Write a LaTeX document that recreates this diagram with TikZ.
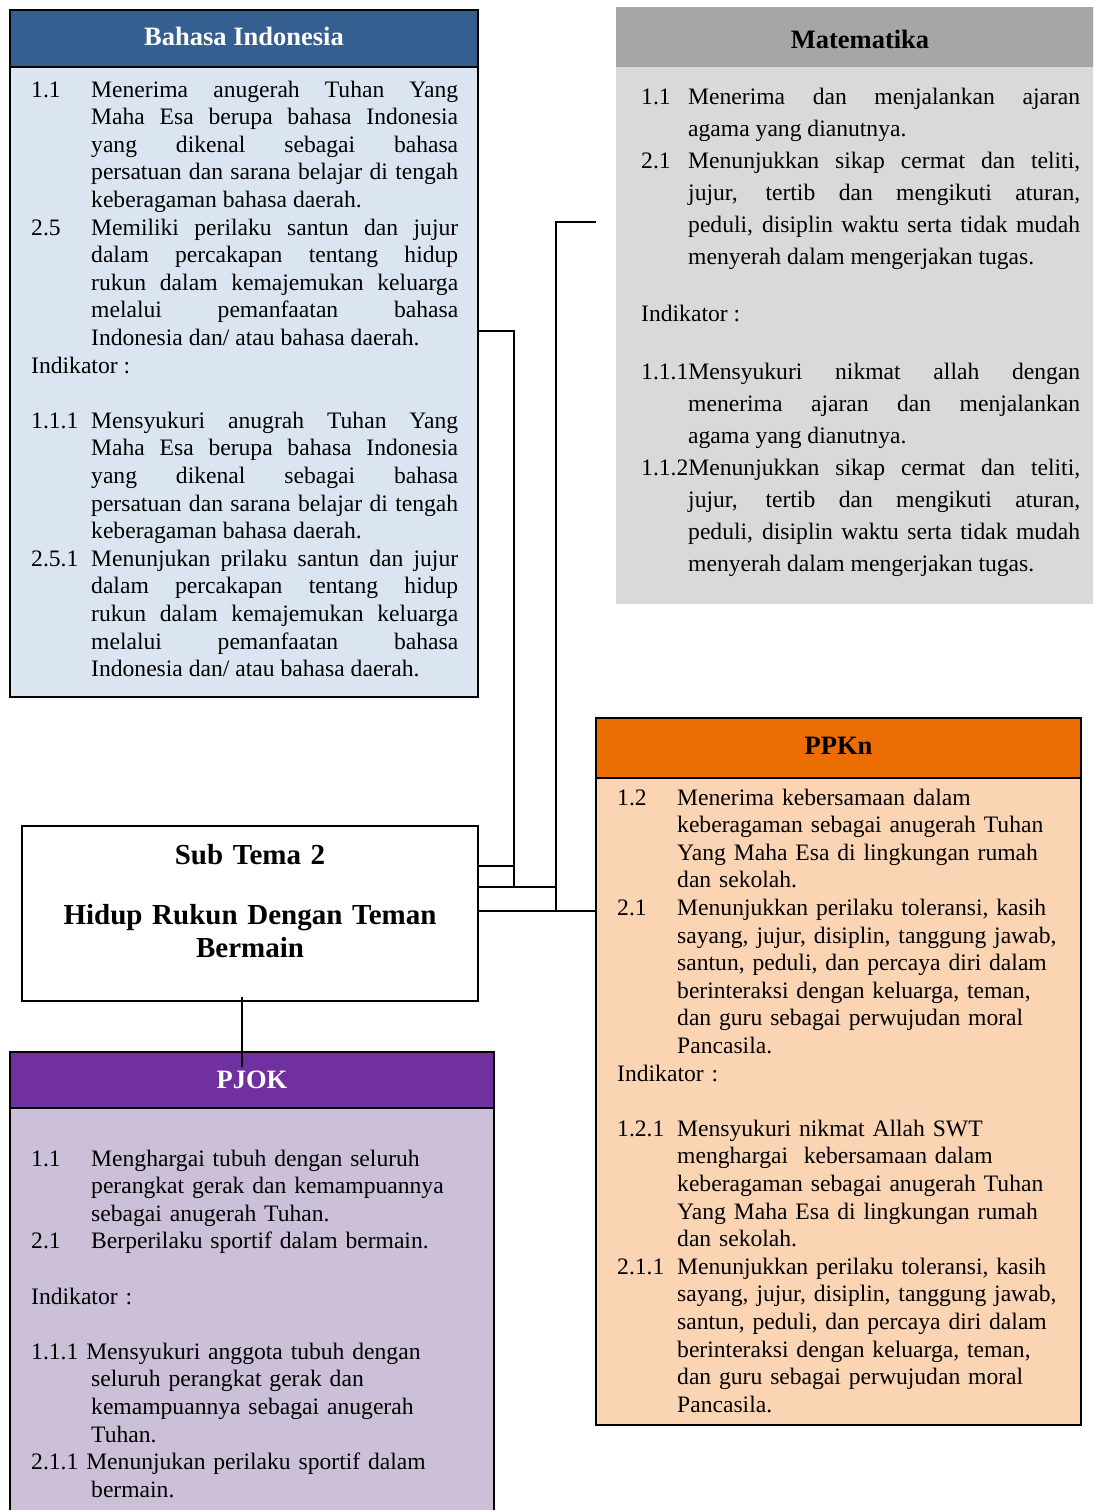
\documentclass[tikz,border=0pt]{standalone}
\usepackage{fontspec}
\setmainfont{Liberation Serif}
\usetikzlibrary{calc}

\definecolor{biHead}{HTML}{365F91}
\definecolor{biBody}{HTML}{DBE5F1}
\definecolor{mtHead}{HTML}{A6A6A6}
\definecolor{mtBody}{HTML}{D9D9D9}
\definecolor{ppHead}{HTML}{EC6D03}
\definecolor{ppBody}{HTML}{FBD4B4}
\definecolor{pjHead}{HTML}{7030A0}
\definecolor{pjBody}{HTML}{CCC0D9}

% paragraph settings used in every text column
\newcommand{\bodysetup}{\parindent=0pt\parskip=0pt\tolerance=10000\hbadness=10000\hyphenpenalty=10000\exhyphenpenalty=10000\relax}
% numbered competence paragraph: label in a fixed-width slot, hanging indent
\newcommand{\kdpar}[3]{\hangindent=#1\hangafter=1\noindent\makebox[#1][l]{#2}#3\par}
% paragraph whose label runs straight into the text
\newcommand{\kdrun}[2]{\hangindent=#1\hangafter=1\noindent #2\par}

\tikzset{
  panel/.style={draw=black, line width=2pt, anchor=north west, inner sep=0pt, outer sep=0pt},
  headtext/.style={anchor=base, inner sep=0pt, font=\bfseries\fontsize{26.5}{30}\selectfont},
  bodytext/.style={anchor=base west, inner sep=0pt, text width=#1, font=\fontsize{23.6}{27.6}\selectfont},
  wire/.style={draw=black, line width=1.6pt},
}

\begin{document}
\begin{tikzpicture}[x=1pt, y=-1pt]
\useasboundingbox (0,0) rectangle (1093,1510);
\clip (0,0) rectangle (1093,1510);

% ---------- Bahasa Indonesia ----------
\node[panel, fill=biBody, minimum width=468pt, minimum height=687pt] (bi) at (10,10) {};
\node[panel, fill=biHead, minimum width=468pt, minimum height=57pt] (biHd) at (10,10) {};
\node[headtext, text=white] (biTitle) at ($(biHd.south)+(0,-22)$) {Bahasa Indonesia};
\node[bodytext=427pt, align=justify] (biText) at (31,97) {\bodysetup%
\kdpar{60pt}{1.1}{Menerima anugerah Tuhan Yang\break Maha Esa berupa bahasa Indonesia\break yang dikenal sebagai bahasa\break persatuan dan sarana belajar di tengah\break keberagaman bahasa daerah.}%
\kdpar{60pt}{2.5}{Memiliki perilaku santun dan jujur\break dalam percakapan tentang hidup\break rukun dalam kemajemukan keluarga\break melalui pemanfaatan bahasa\break Indonesia dan/ atau bahasa daerah.}%
Indikator :\par
\mbox{}\par
\kdpar{60pt}{1.1.1}{Mensyukuri anugrah Tuhan Yang\break Maha Esa berupa bahasa Indonesia\break yang dikenal sebagai bahasa\break persatuan dan sarana belajar di tengah\break keberagaman bahasa daerah.}%
\kdpar{60pt}{2.5.1}{Menunjukan prilaku santun dan jujur\break dalam percakapan tentang hidup\break rukun dalam kemajemukan keluarga\break melalui pemanfaatan bahasa\break Indonesia dan/ atau bahasa daerah.}%
};

% ---------- Matematika ----------
\node[panel, draw=none, fill=mtBody, minimum width=480pt, minimum height=597pt] (mt) at (616,7) {};
\node[panel, draw=none, fill=mtHead, minimum width=480pt, minimum height=60pt] (mtHd) at (616,7) {};
\node[headtext] (mtTitle) at ($(mtHd.south)+(4,-19)$) {Matematika};
\node[bodytext=439pt, align=justify, font=\fontsize{23.6}{32}\selectfont] (mtText) at (641,104) {\bodysetup%
\kdpar{47pt}{1.1}{Menerima dan menjalankan ajaran\break agama yang dianutnya.}%
\kdpar{47pt}{2.1}{Menunjukkan sikap cermat dan teliti,\break jujur, tertib dan mengikuti aturan,\break peduli, disiplin waktu serta tidak mudah\break menyerah dalam mengerjakan tugas.}%
\vspace{25pt}Indikator :\par
\vspace{26pt}%
\kdrun{47pt}{1.1.1Mensyukuri nikmat allah dengan\break menerima ajaran dan menjalankan\break agama yang dianutnya.}%
\kdrun{47pt}{1.1.2Menunjukkan sikap cermat dan teliti,\break jujur, tertib dan mengikuti aturan,\break peduli, disiplin waktu serta tidak mudah\break menyerah dalam mengerjakan tugas.}%
};

% ---------- PPKn ----------
\node[panel, fill=ppBody, minimum width=485pt, minimum height=707pt] (pp) at (596,718) {};
\node[panel, fill=ppHead, minimum width=485pt, minimum height=60pt] (ppHd) at (596,718) {};
\node[headtext] (ppTitle) at ($(ppHd.south)+(0,-24)$) {PPKn};
\node[bodytext=455pt, align=left] (ppText) at (617,805) {\bodysetup%
\kdpar{60pt}{1.2}{Menerima kebersamaan dalam\break keberagaman sebagai anugerah Tuhan\break Yang Maha Esa di lingkungan rumah\break dan sekolah.}%
\kdpar{60pt}{2.1}{Menunjukkan perilaku toleransi, kasih\break sayang, jujur, disiplin, tanggung jawab,\break santun, peduli, dan percaya diri dalam\break berinteraksi dengan keluarga, teman,\break dan guru sebagai perwujudan moral\break Pancasila.}%
Indikator :\par
\mbox{}\par
\kdpar{60pt}{1.2.1}{Mensyukuri nikmat Allah SWT\break menghargai\ \ kebersamaan dalam\break keberagaman sebagai anugerah Tuhan\break Yang Maha Esa di lingkungan rumah\break dan sekolah.}%
\kdpar{60pt}{2.1.1}{Menunjukkan perilaku toleransi, kasih\break sayang, jujur, disiplin, tanggung jawab,\break santun, peduli, dan percaya diri dalam\break berinteraksi dengan keluarga, teman,\break dan guru sebagai perwujudan moral\break Pancasila.}%
};

% ---------- Sub Tema ----------
\node[panel, fill=white, minimum width=456pt, minimum height=175pt] (sub) at (22,826) {};
\node[anchor=base, inner sep=0pt, text width=440pt, align=center,
      font=\bfseries\fontsize{29}{33}\selectfont] (subText) at (250,864)
  {Sub Tema 2\\[27pt]Hidup Rukun Dengan Teman\\Bermain};

% ---------- PJOK ----------
\node[panel, fill=pjBody, minimum width=484pt, minimum height=520pt] (pj) at (10,1052) {};
\node[panel, fill=pjHead, minimum width=484pt, minimum height=56pt] (pjHd) at (10,1052) {};
\node[headtext, text=white] (pjTitle) at ($(pjHd.south)+(0,-20)$) {PJOK};
\node[bodytext=460pt, align=left] (pjText) at (31,1166) {\bodysetup%
\kdpar{60pt}{1.1}{Menghargai tubuh dengan seluruh\break perangkat gerak dan kemampuannya\break sebagai anugerah Tuhan.}%
\kdpar{60pt}{2.1}{Berperilaku sportif dalam bermain.}%
\mbox{}\par
Indikator :\par
\mbox{}\par
\kdrun{60pt}{1.1.1 Mensyukuri anggota tubuh dengan\break seluruh perangkat gerak dan\break kemampuannya sebagai anugerah\break Tuhan.}%
\kdrun{60pt}{2.1.1 Menunjukan perilaku sportif dalam\break bermain.}%
};

% ---------- connectors ----------
\coordinate (biJoin) at (514,331);
\coordinate (mtJoin) at (556,222);
\coordinate (mtEnd)  at (596,222);
\coordinate (subA) at (sub.east |- 0,866);
\coordinate (subB) at (sub.east |- 0,887);
\coordinate (subC) at (sub.east |- 0,911);
\coordinate (subDrop) at (242,997);
\coordinate (pjTop) at (242,1067);

\draw[wire] (bi.east |- biJoin) -- (biJoin) -- (biJoin |- subB);
\draw[wire] (subA) -- (subA -| biJoin);
\draw[wire] (mtEnd) -- (mtJoin) -- (mtJoin |- subC);
\draw[wire] (subB) -- (subB -| mtJoin);
\draw[wire] (subC) -- (subC -| pp.west);
\draw[wire] (subDrop) -- (pjTop);
\end{tikzpicture}
\end{document}
